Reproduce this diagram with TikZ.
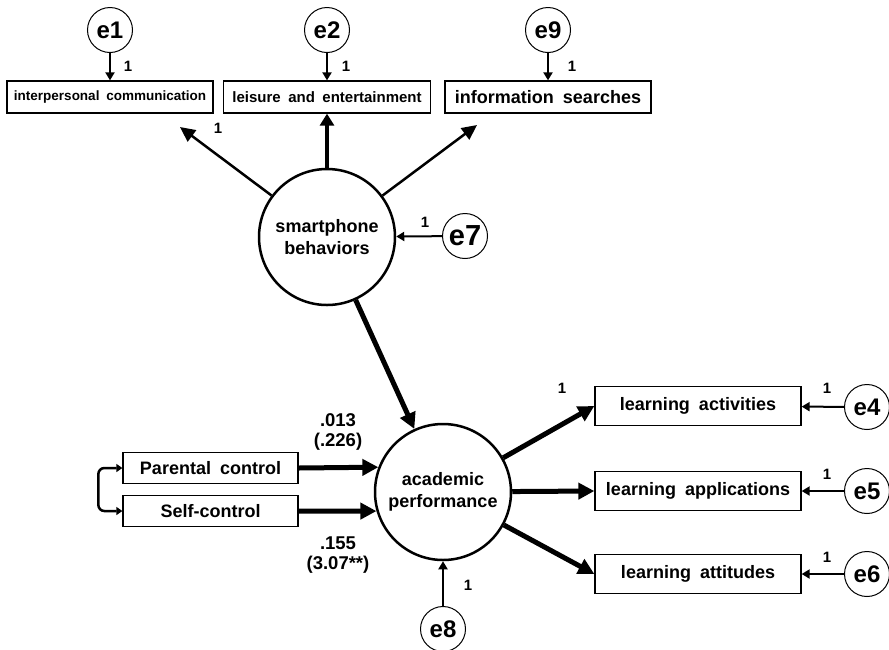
\documentclass[tikz,border=0pt]{standalone}
\usepackage{fontspec}
\setmainfont{Liberation Sans}
\usetikzlibrary{positioning, arrows.meta, calc}

\newcommand\obsfont[1]{\bfseries\fontsize{#1}{#1}\selectfont\spaceskip=0.5em\relax}

\tikzset{
  errc/.style={circle, draw, line width=1pt, minimum size=45pt, inner sep=0pt,
               font=\bfseries\fontsize{24}{24}\selectfont},
  latent/.style={circle, draw, line width=2.5pt, minimum size=136pt, inner sep=0pt,
                 align=center, font=\bfseries\fontsize{18}{22}\selectfont},
  obs/.style={draw, line width=1.3pt, inner sep=0pt, font=\obsfont{18}},
  one/.style={font=\bfseries\fontsize{15}{15}\selectfont},
  coef/.style={align=center, font=\bfseries\fontsize{18.5}{20}\selectfont},
  errarr/.style={line width=2pt, -{Triangle[length=8pt,width=9pt]}},
  midarr/.style={line width=2.5pt, -{Triangle[length=15pt,width=14pt]}},
  leiarr/.style={line width=4pt, -{Triangle[length=12pt,width=14pt]}},
  bigarr/.style={line width=5pt, -{Triangle[length=16pt,width=16pt]}},
  corr/.style={line width=2.5pt, rounded corners=6pt,
               {Triangle[length=6pt,width=8pt]}-{Triangle[length=6pt,width=8pt]}}
}

\begin{document}
\begin{tikzpicture}[x=1pt, y=-1pt]
  \useasboundingbox (0,0) rectangle (889,649);

  % measurement model: smartphone behaviors
  \node[latent] (sb) at (327,237) {smartphone\\behaviors};
  \node[obs, minimum width=206pt, minimum height=32pt, font=\obsfont{13.5}] (ic) at (110,97) {interpersonal communication};
  \node[obs, minimum width=207pt, minimum height=32pt, font=\obsfont{15}] (le) at (327,97) {leisure and entertainment};
  \node[obs, minimum width=206pt, minimum height=32pt] (is) at (548,97) {information searches};
  \node[errc] (e1) at (110,30) {e1};
  \node[errc] (e2) at (327,30) {e2};
  \node[errc] (e9) at (548,30) {e9};
  \node[errc, font=\bfseries\fontsize{29}{29}\selectfont] (e7) at (465,236) {e7};
  \coordinate (ictip) at (180,127);
  \coordinate (istip) at (477,125);

  \draw[errarr] (e1) -- (ic);
  \draw[errarr] (e2) -- (le);
  \draw[errarr] (e9) -- (is);
  \draw[midarr] (sb) -- (ictip);
  \draw[leiarr] (sb) -- (le);
  \draw[midarr] (sb) -- (istip);
  \draw[errarr] (e7) -- (sb);
  \node[one] at (128,66) {1};
  \node[one] at (346,66) {1};
  \node[one] at (572,66) {1};
  \node[one] at (218,128) {1};
  \node[one] at (425,222) {1};

  % structural part
  \node[latent] (ap) at (443,492) {academic\\performance};
  \node[obs, minimum width=175pt, minimum height=31pt] (pc) at (210.5,468) {Parental control};
  \node[obs, minimum width=175pt, minimum height=31pt] (sc) at (210.5,511) {Self-control};
  \node[errc] (e8) at (443,629) {e8};

  \draw[bigarr] (sb) -- (ap);
  \draw[bigarr] (pc.east) -- (ap.159);
  \draw[bigarr] (sc.east) -- (ap.196);
  \draw[corr] (pc.west) -- ++(-24,0) |- (sc.west);
  \draw[errarr] (e8) -- (ap);
  \node[coef] at (338,432) {.013\\(.226)};
  \node[coef] at (338,555) {.155\\(3.07**)};
  \node[one] at (468,585) {1};

  % measurement model: academic performance
  \node[obs, minimum width=206pt, minimum height=39pt] (la) at (698,406) {learning activities};
  \node[obs, minimum width=206pt, minimum height=39pt] (lp) at (698,491) {learning applications};
  \node[obs, minimum width=206pt, minimum height=39pt] (lt) at (698,574) {learning attitudes};
  \node[errc] (e4) at (867,407) {e4};
  \node[errc] (e5) at (867,491) {e5};
  \node[errc] (e6) at (867,574) {e6};

  \draw[bigarr] (ap) -- (la.west);
  \draw[bigarr] (ap) -- (lp.west);
  \draw[bigarr] (ap) -- (lt.west);
  \draw[errarr] (e4) -- (la);
  \draw[errarr] (e5) -- (lp);
  \draw[errarr] (e6) -- (lt);
  \node[one] at (562,388) {1};
  \node[one] at (827,388) {1};
  \node[one] at (827,474) {1};
  \node[one] at (827,557) {1};
\end{tikzpicture}
\end{document}
